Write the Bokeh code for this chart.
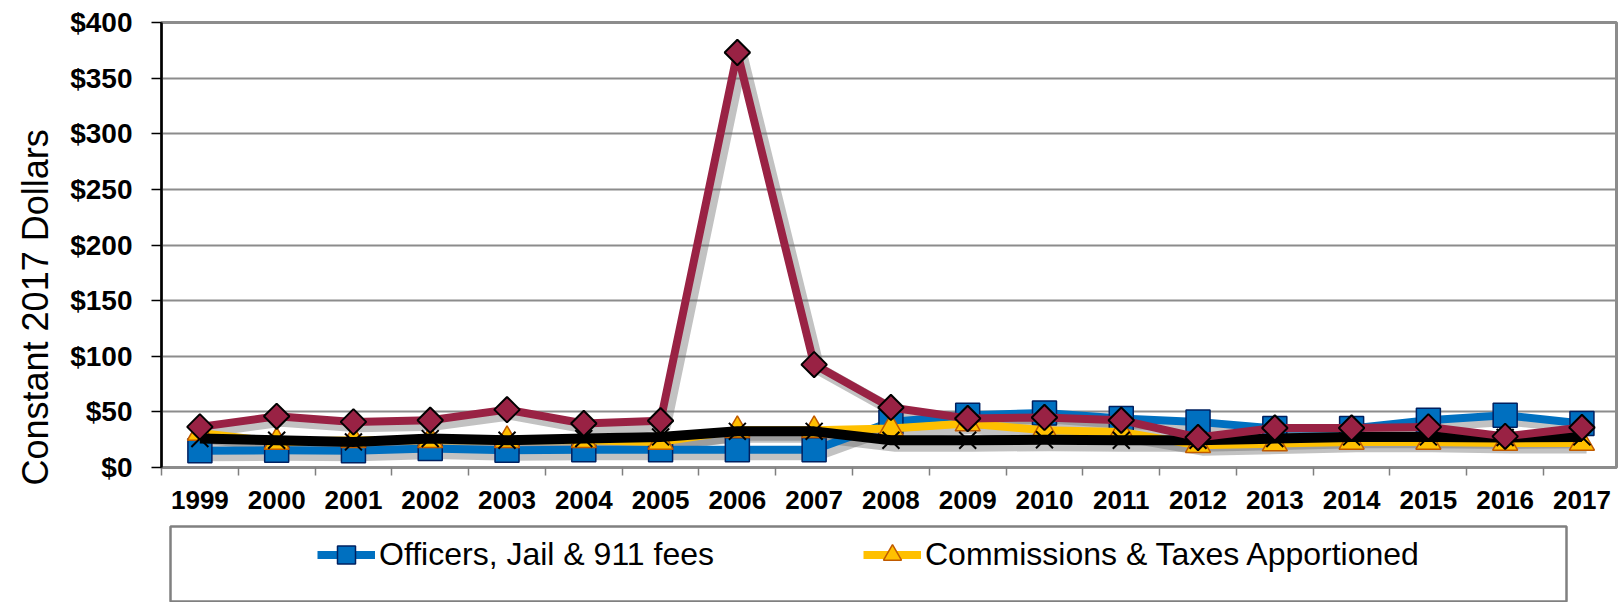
import math
from bokeh.plotting import figure
from bokeh.models import (FixedTicker, NumeralTickFormatter, Legend, LegendItem,
                          Range1d, Title)
from bokeh.embed import file_html
from bokeh.resources import INLINE

# ---- data ----
years = list(range(1999, 2018))
officers_jail_911 = [15, 15.5, 15, 17, 15.5, 16, 16, 16, 16, 41, 47, 49, 44, 41, 35, 35, 42.5, 47, 39.5]
commissions_taxes = [31, 23, 24.5, 24.5, 24.5, 24.5, 23, 33.5, 33.5, 35, 39.5, 33.5, 32, 20, 21.5, 23, 23, 22, 22]
series_red = [36.5, 46, 41, 42.5, 52, 39.5, 42, 373, 92.5, 54, 44, 45, 42.5, 27, 35.5, 35.5, 36.5, 28, 36]
series_black = [26, 24.5, 23, 26, 24.5, 26, 27.5, 32.5, 32.5, 24.5, 24.5, 25, 24.5, 24.5, 26, 27.5, 27.5, 27, 27.5]
y_ticks = [0, 50, 100, 150, 200, 250, 300, 350, 400]
y_label = "Constant 2017 Dollars"
legend_labels = ["Officers, Jail & 911 fees", "Commissions & Taxes Apportioned"]

FONT = "Liberation Sans"
blue = "#0070C0"
yellow = "#FFC000"
red = "#992244"

p = figure(width=1618, height=525, output_backend="svg", toolbar_location=None,
           x_range=Range1d(1998.5, 2017.45), y_range=Range1d(0, 400),
           min_border_left=158, min_border_top=22, min_border_bottom=58, min_border_right=2)

p.background_fill_color = "white"
p.border_fill_color = "white"
p.outline_line_color = "#8c8c8c"
p.outline_line_width = 3

p.xgrid.grid_line_color = None
p.ygrid.grid_line_color = "#8c8c8c"
p.ygrid.grid_line_width = 2

# y axis
p.yaxis.ticker = FixedTicker(ticks=y_ticks)
p.yaxis.formatter = NumeralTickFormatter(format="$0,0")
p.yaxis.major_label_text_font = FONT
p.yaxis.major_label_text_font_style = "bold"
p.yaxis.major_label_text_font_size = "28px"
p.yaxis.major_label_text_color = "black"
p.yaxis.major_tick_out = 10
p.yaxis.major_tick_in = 0
p.yaxis.major_tick_line_color = "black"
p.yaxis.major_tick_line_width = 1.5
p.yaxis.minor_tick_line_color = None
p.yaxis.axis_line_color = "black"
p.yaxis.axis_line_width = 2.5
p.yaxis.major_label_standoff = 19

# y-axis title, shifted toward the bottom like the reference
p.add_layout(Title(text=y_label, align="left", offset=-18, text_font=FONT,
                   text_font_size="36px", text_font_style="normal",
                   text_color="black", standoff=24), "left")

# x axis: labels at category centres, tick marks at category boundaries
boundaries = [y - 0.5 for y in years] + [years[-1] + 0.5]
p.xaxis.ticker = FixedTicker(ticks=years, minor_ticks=boundaries)
p.xaxis.major_label_overrides = {y: str(y) for y in years}
p.xaxis.major_label_text_font = FONT
p.xaxis.major_label_text_font_style = "bold"
p.xaxis.major_label_text_font_size = "26px"
p.xaxis.major_label_text_color = "black"
p.xaxis.major_tick_out = 0
p.xaxis.major_tick_in = 0
p.xaxis.minor_tick_out = 8
p.xaxis.minor_tick_in = 0
p.xaxis.minor_tick_line_color = "#7f7f7f"
p.xaxis.minor_tick_line_width = 1.5
p.xaxis.axis_line_color = "#8c8c8c"
p.xaxis.axis_line_width = 2
p.xaxis.major_label_standoff = 15

# ---- drop shadows ----
dx, dy = 0.06, -4.0
for vals, w in [(officers_jail_911, 9), (commissions_taxes, 9), (series_black, 11), (series_red, 9)]:
    p.line([x + dx for x in years], [v + dy for v in vals], line_color="#666666",
           line_width=w + 3, line_alpha=0.4, line_join="round")


def draw_series(fig):
    rs = {}
    rs["bl"] = fig.line(years, officers_jail_911, line_color=blue, line_width=8, line_join="round")
    rs["bm"] = fig.scatter(years, officers_jail_911, marker="square", size=24, fill_color=blue,
                           line_color="#002060", line_width=1.5)
    rs["yl"] = fig.line(years, commissions_taxes, line_color=yellow, line_width=8, line_join="round")
    rs["ym"] = fig.scatter(years, commissions_taxes, marker="triangle", size=25, fill_color=yellow,
                           line_color="#C05A00", line_width=1.5)
    return rs


rs = draw_series(p)
p.line(years, series_black, line_color="black", line_width=10, line_join="round")
p.scatter(years, series_black, marker="x", size=24, line_color="black", line_width=2)
p.line(years, series_red, line_color=red, line_width=8, line_join="round")
p.scatter(years, series_red, marker="square", angle=math.pi / 4, size=18,
          fill_color=red, line_color="black", line_width=2)

# ---- legend panel (its frame outline is the legend box, running off the bottom) ----
p2 = figure(width=1618, height=77, output_backend="svg", toolbar_location=None,
            x_range=Range1d(0, 1), y_range=Range1d(0, 1),
            x_axis_location=None, y_axis_location=None,
            min_border_left=170, min_border_right=52, min_border_top=1, min_border_bottom=0)
p2.grid.grid_line_color = None
p2.outline_line_color = "#808080"
p2.outline_line_width = 2.5
p2.background_fill_color = "white"
p2.border_fill_color = "white"

rs2 = draw_series(p2)   # same styles; data lie outside this panel's range

legend = Legend(items=[
    LegendItem(label=legend_labels[0], renderers=[rs2["bl"], rs2["bm"]]),
    LegendItem(label=legend_labels[1], renderers=[rs2["yl"], rs2["ym"]]),
], orientation="horizontal", location=(147, 25))
legend.padding = 0
legend.margin = 0
legend.spacing = 0
legend.glyph_width = 58
legend.glyph_height = 45
legend.label_standoff = 4
legend.label_width = 484
legend.label_text_font = FONT
legend.label_text_font_size = "32px"
legend.label_text_color = "black"
legend.border_line_color = None
legend.background_fill_alpha = 0
p2.add_layout(legend, "center")

open("out.html", "w").write(file_html([p, p2], INLINE))
